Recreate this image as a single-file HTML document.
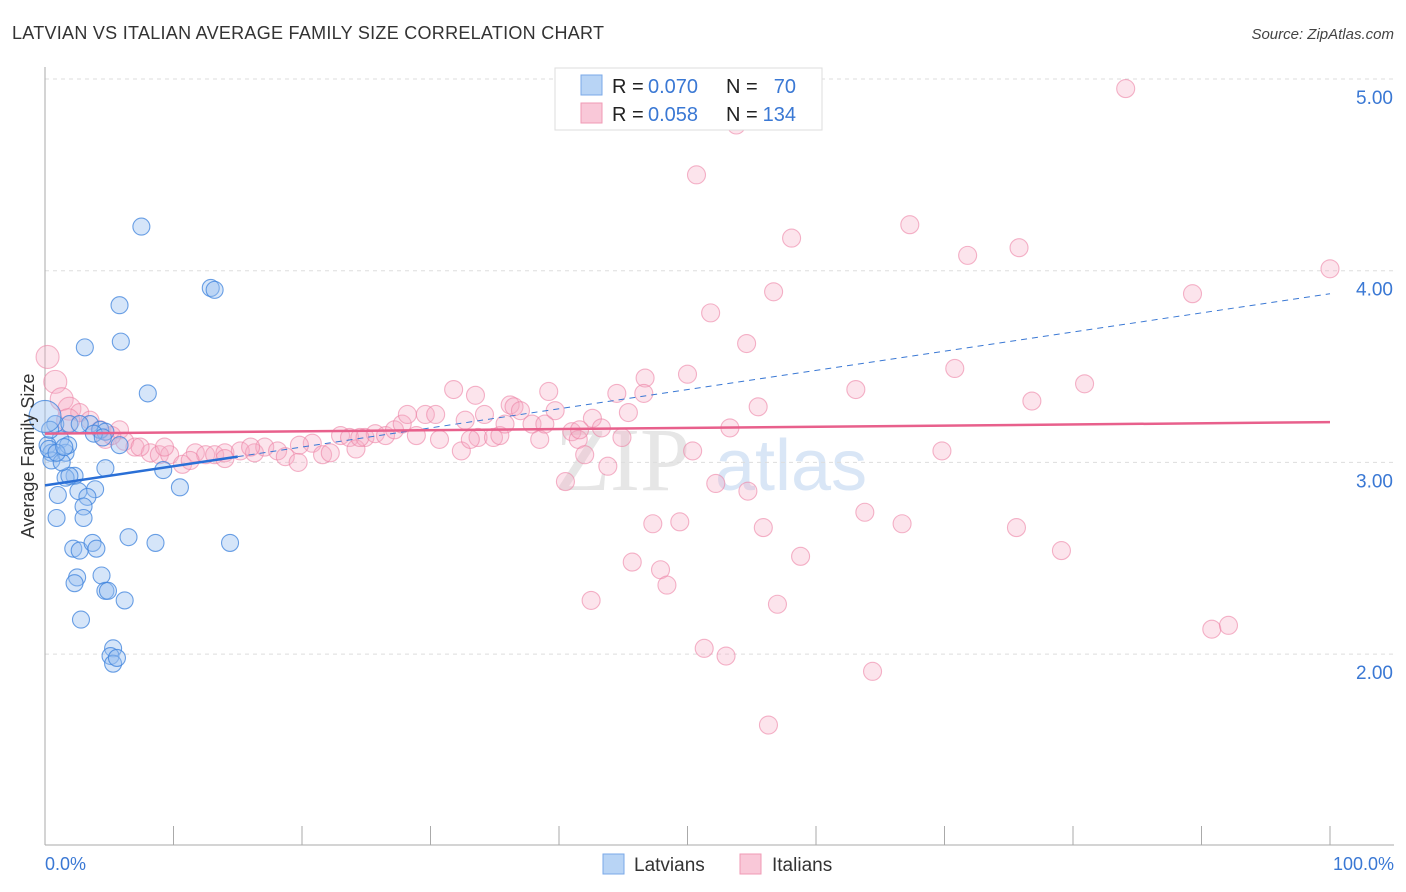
<!DOCTYPE html>
<html><head><meta charset="utf-8"><style>
body{margin:0;background:#fff;font-family:"Liberation Sans",sans-serif}
svg{display:block}
</style></head><body>
<svg id="chart" width="1406" height="892">
<text x="12" y="39" font-size="18" fill="#333" textLength="592">LATVIAN VS ITALIAN AVERAGE FAMILY SIZE CORRELATION CHART</text>
<text x="1394" y="39" font-size="15" fill="#444" font-style="italic" text-anchor="end">Source: ZipAtlas.com</text>
<text x="555" y="490" font-size="90" fill="#e6e6e6" font-family="Liberation Serif,serif">ZIP</text>
<text x="715" y="490" font-size="72" fill="#d9e6f6">atlas</text>
<g id="grid"></g>
<g id="axes"></g>
<g id="pts"></g>
<g id="lines"></g>
<text transform="translate(34,456) rotate(-90)" font-size="18" fill="#333" text-anchor="middle">Average Family Size</text>
<text x="45" y="870" font-size="18" fill="#3a78d4">0.0%</text>
<text x="1394" y="870" font-size="18" fill="#3a78d4" text-anchor="end">100.0%</text>
<g>
<rect x="555" y="68" width="267" height="62" fill="#fff" stroke="#ddd"/>
<rect x="581" y="75" width="21" height="20" fill="#b8d4f5" stroke="#7aa8e8"/>
<rect x="581" y="103" width="21" height="20" fill="#f9c8d8" stroke="#f09ab5"/>
<text x="612" y="93" font-size="20" fill="#222">R =</text>
<text x="648" y="93" font-size="20" fill="#3a78d4">0.070</text>
<text x="726" y="93" font-size="20" fill="#222">N =</text>
<text x="796" y="93" font-size="20" fill="#3a78d4" text-anchor="end">70</text>
<text x="612" y="121" font-size="20" fill="#222">R =</text>
<text x="648" y="121" font-size="20" fill="#3a78d4">0.058</text>
<text x="726" y="121" font-size="20" fill="#222">N =</text>
<text x="796" y="121" font-size="20" fill="#3a78d4" text-anchor="end">134</text>
</g>
<g>
<rect x="603" y="854" width="21" height="20" fill="#b8d4f5" stroke="#7aa8e8"/>
<text x="634" y="871" font-size="19" fill="#333">Latvians</text>
<rect x="740" y="854" width="21" height="20" fill="#f9c8d8" stroke="#f09ab5"/>
<text x="772" y="871" font-size="19" fill="#333">Italians</text>
</g>
</svg>
<script>
const yTicks=[2,3,4,5];
const yTickLabels=["2.00","3.00","4.00","5.00"];
const xTickCount=10;
const blueX=[7.5,12.9,13.2,5.8,5.9,3.1,8.0,0.8,1.9,3.5,4.3,1.2,0.2,0.5,1.6,2.7,4.7,5.8,2.3,4.7,9.2,1.6,1.9,1.0,2.6,3.9,3.3,10.5,3.0,0.9,3.0,2.2,2.7,3.7,4.0,6.5,8.6,14.4,2.5,2.3,4.4,4.7,4.9,6.2,2.8,5.3,5.1,5.3,5.6,0.5,0.4,1.3,1.8,0,0.3,0.9,1.5,3.8,4.5];
const blueY=[4.23,3.91,3.90,3.82,3.63,3.60,3.36,3.20,3.20,3.20,3.17,3.12,3.09,3.05,3.05,3.20,3.16,3.09,2.93,2.97,2.96,2.92,2.93,2.83,2.85,2.86,2.82,2.87,2.77,2.71,2.71,2.55,2.54,2.58,2.55,2.61,2.58,2.58,2.40,2.37,2.41,2.33,2.33,2.28,2.18,2.03,1.99,1.95,1.98,3.01,3.17,3.00,3.09,3.24,3.07,3.05,3.08,3.15,3.13];
const pinkX=[84.1,53.8,50.7,67.3,58.1,75.8,71.8,100,56.7,89.3,51.8,54.6,0.2,0.8,70.8,80.9,63.1,50.0,46.7,46.6,39.2,31.8,33.5,36.2,1.3,1.9,2.7,1.8,3.5,4.3,5.8,4.7,6.2,7.0,8.2,8.9,9.7,10.7,11.7,12.5,13.2,14.0,15.2,16.3,17.1,18.1,18.7,19.7,20.8,21.6,22.2,23.0,23.7,24.2,24.9,25.7,26.5,27.2,27.8,28.2,28.9,29.6,30.4,30.7,32.4,32.7,33.7,34.2,34.9,35.4,35.8,36.5,37.0,37.9,38.5,38.9,39.7,40.5,41.0,41.5,42.0,42.6,43.3,43.8,44.9,45.4,44.5,47.3,45.7,47.9,48.4,49.4,50.4,52.2,53.3,54.7,55.5,55.9,57.0,58.8,51.3,53.0,56.3,64.4,63.8,66.7,69.8,75.6,76.8,79.1,90.8,92.1,42.5,41.6,33.1,24.5,19.8,16.0,5.2,14.0,11.3,7.4,9.3];
const pinkY=[4.95,4.76,4.50,4.24,4.17,4.12,4.08,4.01,3.89,3.88,3.78,3.62,3.55,3.42,3.49,3.41,3.38,3.46,3.44,3.36,3.37,3.38,3.35,3.30,3.33,3.28,3.26,3.22,3.22,3.17,3.17,3.12,3.11,3.08,3.05,3.04,3.04,2.99,3.05,3.04,3.04,3.05,3.06,3.05,3.08,3.06,3.03,3.00,3.10,3.04,3.05,3.14,3.13,3.07,3.13,3.15,3.14,3.17,3.20,3.25,3.14,3.25,3.25,3.12,3.06,3.22,3.13,3.25,3.13,3.14,3.20,3.29,3.27,3.20,3.12,3.20,3.27,2.90,3.16,3.12,3.04,3.23,3.18,2.98,3.13,3.26,3.36,2.68,2.48,2.44,2.36,2.69,3.06,2.89,3.18,2.85,3.29,2.66,2.26,2.51,2.03,1.99,1.63,1.91,2.74,2.68,3.06,2.66,3.32,2.54,2.13,2.15,2.28,3.17,3.12,3.13,3.09,3.08,3.14,3.02,3.01,3.08,3.08];
const blueTrend=[[0,2.88],[15,3.03]];
const blueDash=[[15,3.03],[100,3.88]];
const pinkTrend=[[0,3.15],[100,3.21]];
const NS="http://www.w3.org/2000/svg";
const xs=v=>45+v*12.85;
const ys=v=>79+(5-v)*191.7;
function mk(tag,attrs,parent){const e=document.createElementNS(NS,tag);for(const k in attrs)e.setAttribute(k,attrs[k]);parent.appendChild(e);return e;}
const grid=document.getElementById('grid'),axes=document.getElementById('axes'),pts=document.getElementById('pts'),lines=document.getElementById('lines');
yTicks.forEach((t,i)=>{
 const l=mk('line',{x1:45,x2:1394,y1:ys(t),y2:ys(t),stroke:'#ddd','stroke-dasharray':'4,4'},grid);
 
 
 const tx=mk('text',{x:1393,y:ys(t)+25,'font-size':19,fill:'#3a78d4','text-anchor':'end'},grid);
 tx.textContent=yTickLabels[i];
 
 
});
const ya=mk('line',{x1:45,x2:45,y1:67,y2:845,stroke:'#aaa'},axes);


const xa=mk('line',{x1:45,x2:1394,y1:845,y2:845,stroke:'#aaa'},axes);


for(let i=1;i<=xTickCount;i++){const t=mk('line',{x1:xs(i*10),x2:xs(i*10),y1:826,y2:845,stroke:'#aaa'},axes);
 
 }
pinkX.forEach((x,i)=>{const c=mk('circle',{cx:xs(x),cy:ys(pinkY[i]),r:x<2?11.5:9,fill:'rgba(246,170,195,0.32)',stroke:'rgba(236,130,165,0.6)','stroke-width':1.1},pts);
 
 });
blueX.forEach((x,i)=>{const c=mk('circle',{cx:xs(x),cy:ys(blueY[i]),r:x===0?16:8.5,fill:'rgba(150,190,240,0.4)',stroke:'rgba(60,130,220,0.75)','stroke-width':1.1},pts);
 
 });
const bl=mk('line',{x1:xs(blueTrend[0][0]),y1:ys(blueTrend[0][1]),x2:xs(blueTrend[1][0]),y2:ys(blueTrend[1][1]),stroke:'#2a6fd6','stroke-width':2.5},lines);


const bd=mk('line',{x1:xs(blueDash[0][0]),y1:ys(blueDash[0][1]),x2:xs(blueDash[1][0]),y2:ys(blueDash[1][1]),stroke:'#3a78d4','stroke-width':1,'stroke-dasharray':'6,5'},lines);


const pl=mk('line',{x1:xs(pinkTrend[0][0]),y1:ys(pinkTrend[0][1]),x2:xs(pinkTrend[1][0]),y2:ys(pinkTrend[1][1]),stroke:'#e8608c','stroke-width':2.5},lines);


</script>
</body></html>
